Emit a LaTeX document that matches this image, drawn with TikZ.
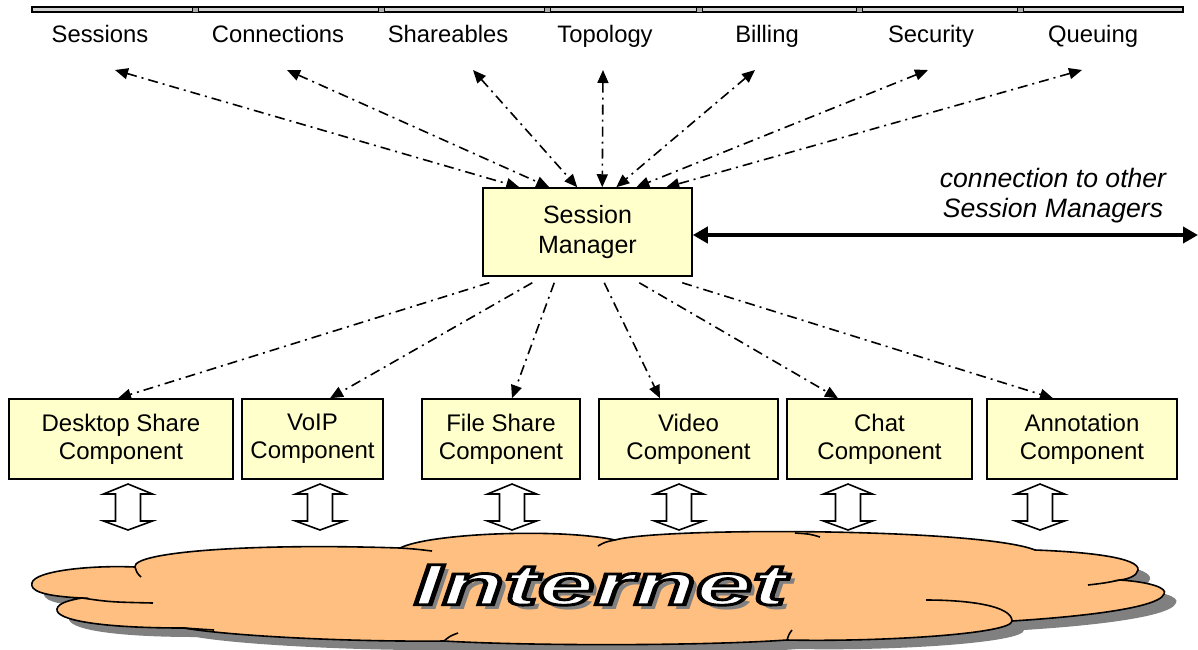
\documentclass[tikz,border=0pt]{standalone}
\usepackage{fontspec}
\setmainfont{Liberation Sans}
\usetikzlibrary{arrows.meta, calc}

\definecolor{cloudfill}{RGB}{255,191,128}
\definecolor{boxfill}{RGB}{255,255,204}

\tikzset{
  lbl/.style={font=\fontsize{11.9}{14}\selectfont, anchor=base, inner sep=0pt},
  box/.style={draw, fill=boxfill, line width=0.75pt, align=center, inner sep=0pt,
              font=\fontsize{12}{14}\selectfont},
  dd/.style={line width=0.8pt, dash pattern=on 5pt off 2.5pt on 1pt off 2.5pt},
  inet/.style={font=\fontsize{29}{30}\selectfont\bfseries\itshape, xscale=1.75, inner sep=0pt},
}

% outline of the cloud (pixel units)
\newcommand{\cloudpath}{(32,583) .. controls (34,571) and (90,565) .. (135,567)
  .. controls (132,552) and (250,543) .. (400,548)
  .. controls (430,533) and (560,528) .. (615,540)
  .. controls (660,527) and (980,528) .. (1035,550)
  .. controls (1090,552) and (1140,558) .. (1138,570)
  .. controls (1137,576) and (1128,579) .. (1120,580)
  .. controls (1150,582) and (1168,588) .. (1164,594)
  .. controls (1158,610) and (1060,618) .. (1012,621)
  .. controls (1012,634) and (880,642) .. (787,640)
  .. controls (700,646) and (530,646) .. (444,641)
  .. controls (350,642) and (230,636) .. (184,628)
  .. controls (100,628) and (55,620) .. (57,609)
  .. controls (58,603) and (70,600) .. (82,598)
  .. controls (40,596) and (30,590) .. (32,583) -- cycle}

% white letters with a black rim
\newcommand{\rimtext}[1]{{\color{white}\special{pdf:code 2 Tr 1.4 w 0 0 0 RG}#1\special{pdf:code 0 Tr}}}

\begin{document}
\begin{tikzpicture}[x=0.5pt, y=-0.5pt, >={Triangle[length=6.5pt,width=5.5pt]}]
  \useasboundingbox (0,0) rectangle (1198,649);

  % header bar
  \draw[fill=gray!35, line width=0.7pt] (32,7) rectangle (1183,12);
  \foreach \x in {195,381,547,699,859,1020}
    \draw[fill=gray!65, line width=0.5pt] (\x-3,7) rectangle (\x+3,12);

  % topics
  \node[lbl] (sessions) at (100,42) {Sessions};
  \node[lbl] (connections) at (278,42) {Connections};
  \node[lbl] (shareables) at (448,42) {Shareables};
  \node[lbl] (topology) at (605,42) {Topology};
  \node[lbl] (billing) at (767,42) {Billing};
  \node[lbl] (security) at (931,42) {Security};
  \node[lbl] (queuing) at (1093,42) {Queuing};

  % session manager
  \node[box, minimum width=104.5pt, minimum height=44pt,
        font=\fontsize{12.5}{15}\selectfont] (sm) at (587.5,232) {Session\\Manager};

  \foreach \n/\dx/\s in {sessions/15/37, connections/9/67, shareables/25/95,
                         topology/-2/120, billing/-12/134, security/-3/154, queuing/-11/184}
    \draw[dd, <->] ($(\n.base)+(\dx,28)$) -- ($(sm.north west)+(\s,0)$);

  % link to other managers
  \coordinate (other) at (1198,235);
  \draw[<->, line width=2pt, >={Triangle[length=7.5pt,width=8pt]}]
    ($(sm.east)+(0,3)$) -- (other);
  \node[font=\fontsize{13.3}{15}\selectfont\itshape, align=center] (note)
    at (1053,196) {connection to other\\Session Managers};

  % components
  \node[box, minimum width=112pt, minimum height=40pt] (desk) at (121,439) {Desktop Share\\Component};
  \node[box, minimum width=70.5pt, minimum height=40pt] (voip) at (312.5,439) {VoIP\\Component};
  \node[box, minimum width=79pt, minimum height=40pt] (file) at (501,439) {File Share\\Component};
  \node[box, minimum width=89.5pt, minimum height=40pt] (video) at (688.5,439) {Video\\Component};
  \node[box, minimum width=92.5pt, minimum height=40pt] (chat) at (879.5,439) {Chat\\Component};
  \node[box, minimum width=95pt, minimum height=40pt] (annot) at (1082,439) {Annotation\\Component};

  \foreach \n/\s/\dx in {desk/7/-3, voip/50/17.5, file/72/11,
                         video/122/-28.5, chat/157/-41.5, annot/200/-29}
    \draw[dd, ->] ($(sm.south west)+(\s,6)$) -- ($(\n.north)+(\dx,0)$);

  % hollow up/down arrows
  \foreach \c in {128,320,512,679,848,1040}
    \draw[fill=white, line width=0.8pt] (\c,484) -- (\c+24.5,494) -- (\c+12.5,494)
      -- (\c+12.5,521) -- (\c+24.5,521) -- (\c,530) -- (\c-24.5,521)
      -- (\c-12.5,521) -- (\c-12.5,494) -- (\c-24.5,494) -- cycle;

  % cloud
  \fill[black!50, shift={(12,9)}] \cloudpath;
  \draw[fill=cloudfill, line width=0.8pt] \cloudpath;
  \draw[line width=0.8pt] (82,598) .. controls (110,602) .. (153,603);
  \draw[line width=0.8pt] (135,567) .. controls (137,573) .. (141,577);
  \draw[line width=0.8pt] (400,548) .. controls (415,549) .. (432,551);
  \draw[line width=0.8pt] (615,540) .. controls (605,542) .. (598,546);
  \draw[line width=0.8pt] (795,533) .. controls (810,534) .. (820,537);
  \draw[line width=0.8pt] (1120,580) .. controls (1105,583) .. (1088,585);
  \draw[line width=0.8pt] (1012,621) .. controls (1012,606) and (970,600) .. (926,600);
  \draw[line width=0.8pt] (787,640) .. controls (789,634) .. (792,630);
  \draw[line width=0.8pt] (444,641) .. controls (450,636) .. (458,633);
  \draw[line width=0.8pt] (184,628) .. controls (198,629) .. (214,630);

  % Internet lettering
  \node[inet, text=black!50] (inetshadow) at (606,590) {Internet};
  \node[inet] (inet) at (600,585) {\rimtext{Internet}};
\end{tikzpicture}
\end{document}
